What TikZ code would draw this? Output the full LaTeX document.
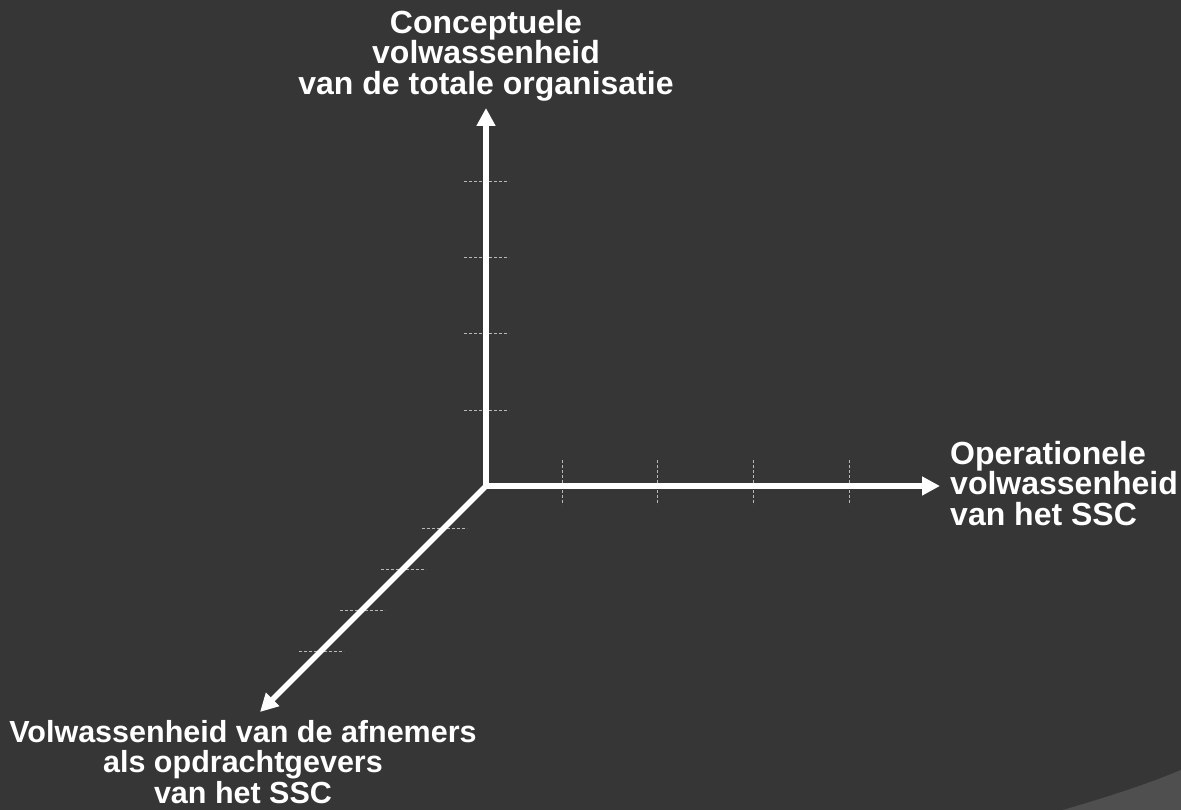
\documentclass[tikz,border=0pt]{standalone}
\usepackage{fontspec}
\setmainfont{Liberation Sans}
\usetikzlibrary{arrows.meta}
\definecolor{slide}{HTML}{363636}
\definecolor{curl}{HTML}{4F4F4F}
\definecolor{tickgray}{HTML}{B8B8B8}
\begin{document}
\begin{tikzpicture}[x=1pt,y=-1pt,
  axis/.style={draw=white, line width=5.5pt, line cap=rect,
    -{Triangle[length=18pt,width=18pt]}},
  gridtick/.style={draw=tickgray, line width=1pt, dash pattern=on 3pt off 2pt},
  axislabel/.style={text=white, font=\fontsize{32}{30.5}\selectfont\bfseries,
    inner sep=0pt, align=center}]

% slide background and the folded corner
\fill[slide] (0,0) rectangle (1181,810);
\useasboundingbox (0,0) rectangle (1181,810);
\fill[curl] (1063,810) .. controls (1100,799) and (1140,787) .. (1181,770)
  -- (1181,810) -- cycle;

% origin and axis ends
\coordinate (O) at (486,486);
\coordinate (Ytip) at (486,108);
\coordinate (Xtip) at (940,486);
\coordinate (Ztip) at (260,712);

% scale marks on the three axes
\foreach \y in {410,334,258,182}
  \draw[gridtick] (464,\y) -- (509,\y);
\foreach \x in {562,657,753,849}
  \draw[gridtick] (\x,460) -- (\x,505);
\foreach \y in {528,569,610,651}
  \draw[gridtick] ({972-\y-22.5},\y) -- ({972-\y+22.5},\y);

% axes
\draw[axis] (O) -- (Ytip);
\draw[axis] (O) -- (Xtip);
\draw[axis] (O) -- (Ztip);

% axis titles
\node[axislabel, anchor=north] (ylab) at (486,10)
  {Conceptuele\\volwassenheid\\van de totale organisatie};
\node[axislabel, anchor=north west, align=left] (xlab) at (950,441)
  {Operationele\\volwassenheid\\van het SSC};
\node[axislabel, anchor=north, font=\fontsize{30.5}{30.5}\selectfont\bfseries]
  (zlab) at (243,720)
  {Volwassenheid van de afnemers\\als opdrachtgevers\\van het SSC};
\end{tikzpicture}
\end{document}
